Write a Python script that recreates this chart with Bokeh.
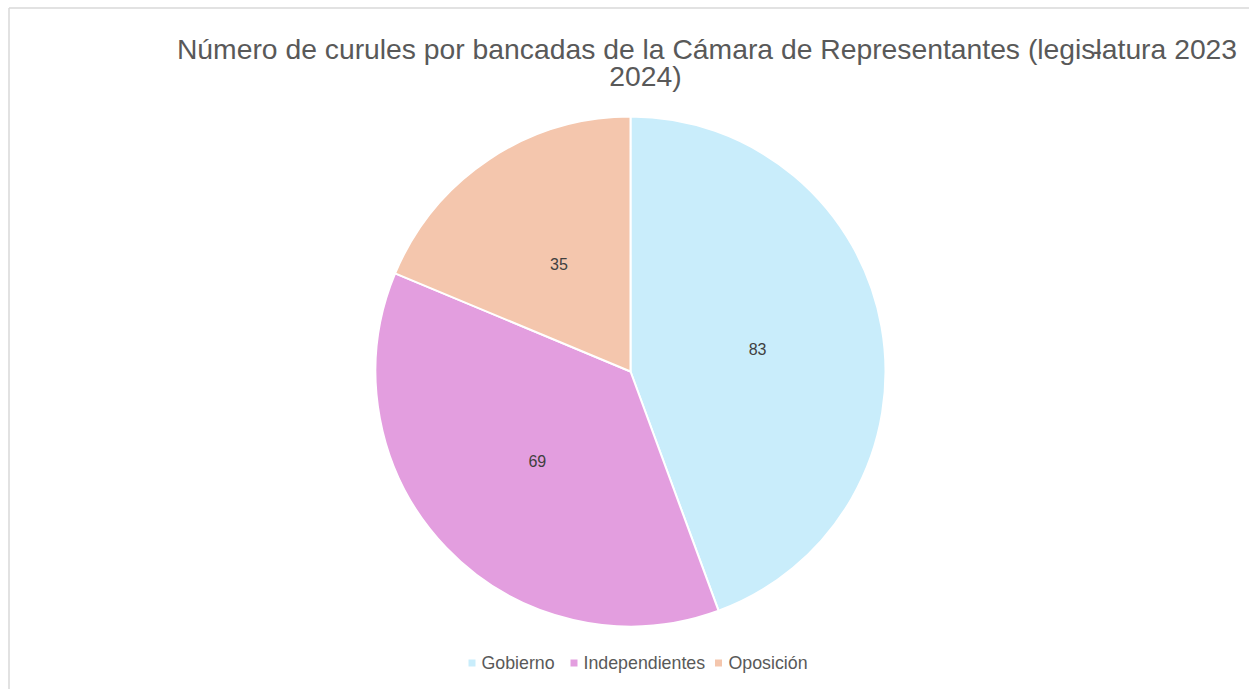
import numpy as np
from bokeh.plotting import figure
from bokeh.models import Range1d, ColumnDataSource
from bokeh.core.properties import value
from bokeh.embed import file_html
from bokeh.resources import INLINE

# ---- data ----
categories = ["Gobierno", "Independientes", "Oposición"]
seats = [83, 69, 35]
colors = ["#C9EDFB", "#E39EDF", "#F4C6AD"]
title_line1 = "Número de curules por bancadas de la Cámara de Representantes (legislatura 2023"
title_dash = "-"
title_line2 = "2024)"

W, H = 1249, 689
FONT = "Liberation Sans"

p = figure(width=W, height=H, output_backend="svg", toolbar_location=None,
           x_range=Range1d(0, W), y_range=Range1d(0, H),
           x_axis_type=None, y_axis_type=None, min_border=0,
           background_fill_color="white", border_fill_color="white")
p.outline_line_color = None
p.grid.visible = False

def sy(y):  # screen y -> data y
    return H - y

# frame lines (left and top)
p.segment(x0=[8.5, 8.5], y0=[0, sy(7.5)], x1=[8.5, W], y1=[sy(7.5), sy(7.5)],
          line_color="#d9d9d9", line_width=1.5)

# ---- pie ----
vals = np.array(seats, dtype=float)
frac = vals / vals.sum()
cum = np.concatenate([[0], np.cumsum(frac)])
start = np.pi / 2 - cum[:-1] * 2 * np.pi
end = np.pi / 2 - cum[1:] * 2 * np.pi
cx, cy, r = 630, sy(371), 255

src = ColumnDataSource(dict(start=start, end=end, color=colors, cat=categories))
p.wedge(x=cx, y=cy, radius=r, start_angle="start", end_angle="end",
        direction="clock", fill_color="color", line_color="white", line_width=2,
        source=src)

mid = (start + end) / 2
lr = r * 0.506
p.text(x=cx + lr * np.cos(mid), y=cy + lr * np.sin(mid), text=[str(s) for s in seats],
       text_align="center", text_baseline="middle", text_font=value(FONT),
       text_font_size="16px", text_color="#404040")

# ---- title ----
p.text(x=[706.5], y=[sy(48)], text=[title_line1], text_align="center",
       text_baseline="alphabetic", text_font=value(FONT), text_font_size="28.3px",
       text_color="#595959")
p.text(x=[1097], y=[sy(50)], text=[title_dash], text_align="center",
       text_baseline="alphabetic", text_font=value(FONT), text_font_size="28px",
       text_color="#595959")
p.text(x=[645], y=[sy(75)], text=[title_line2], text_align="center",
       text_baseline="alphabetic", text_font=value(FONT), text_font_size="28.3px",
       text_color="#595959")

# ---- legend ----
sq_x = [471.5, 573.5, 718]
tx_x = [481, 583, 728]
ly = sy(662.5)
p.scatter(x=sq_x, y=[ly] * 3, marker="square", size=7,
          fill_color=colors, line_color=None)
p.text(x=tx_x, y=[ly] * 3, text=categories, text_align="left",
       text_baseline="middle", text_font=value(FONT), text_font_size="17.8px",
       text_color="#595959")

open("out.html", "w").write(file_html(p, INLINE))
